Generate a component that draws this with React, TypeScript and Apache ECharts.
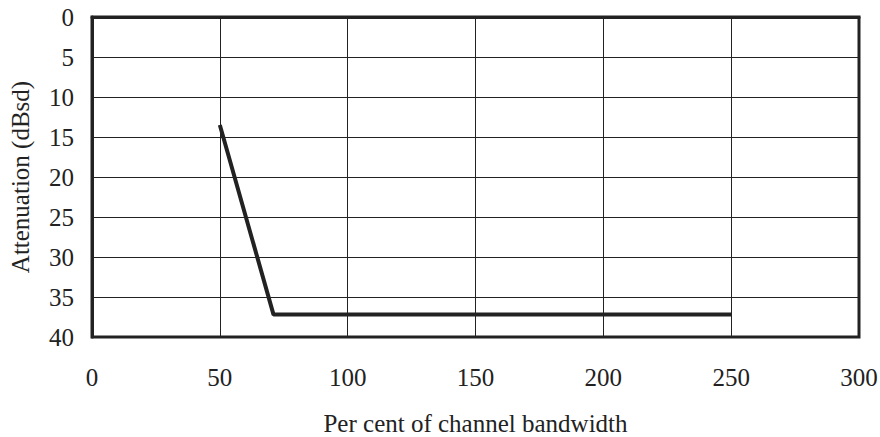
import React, { useEffect, useRef } from "react";
import * as echarts from "echarts";

const xValues = [50, 71, 250];
const yValues = [13.5, 37.2, 37.2];
const xTitle = "Per cent of channel bandwidth";
const yTitle = "Attenuation (dBsd)";

export default function App() {
  const ref = useRef<HTMLDivElement>(null);
  useEffect(() => {
    if (!ref.current) return;
    const chart = echarts.init(ref.current, null, { renderer: "svg" });
    const font = "'Liberation Serif', 'Times New Roman', serif";
    chart.setOption({
      animation: false,
      backgroundColor: "#ffffff",
      textStyle: { fontFamily: font },
      grid: {
        left: 92,
        right: 21,
        top: 17,
        bottom: 100,
        show: true,
        borderColor: "#222",
        borderWidth: 3,
        outerBoundsMode: "none",
        containLabel: false,
      },
      xAxis: {
        type: "value",
        min: 0,
        max: 300,
        interval: 50,
        name: xTitle,
        nameLocation: "middle",
        nameGap: 74,
        nameTextStyle: { fontFamily: font, fontSize: 25, color: "#222" },
        axisLine: { show: true, lineStyle: { color: "#222", width: 3 } },
        axisTick: { show: false },
        axisLabel: { fontFamily: font, fontSize: 25, color: "#222", margin: 28 },
        splitLine: { show: true, lineStyle: { color: "#222", width: 1 } },
      },
      yAxis: {
        type: "value",
        inverse: true,
        min: 0,
        max: 40,
        interval: 5,
        name: yTitle,
        nameLocation: "middle",
        nameGap: 59,
        nameTextStyle: { fontFamily: font, fontSize: 25, color: "#222" },
        axisLine: { show: true, lineStyle: { color: "#222", width: 3 } },
        axisTick: { show: false },
        axisLabel: { fontFamily: font, fontSize: 25, color: "#222", margin: 18 },
        splitLine: { show: true, lineStyle: { color: "#222", width: 1 } },
      },
      series: [
        {
          type: "line",
          data: xValues.map((x, i) => [x, yValues[i]]),
          symbol: "none",
          lineStyle: { color: "#222", width: 4 },
        },
      ],
    });
    return () => chart.dispose();
  }, []);
  return <div ref={ref} style={{ width: 880, height: 437, position: "absolute", left: 0, top: 0 }} />;
}
